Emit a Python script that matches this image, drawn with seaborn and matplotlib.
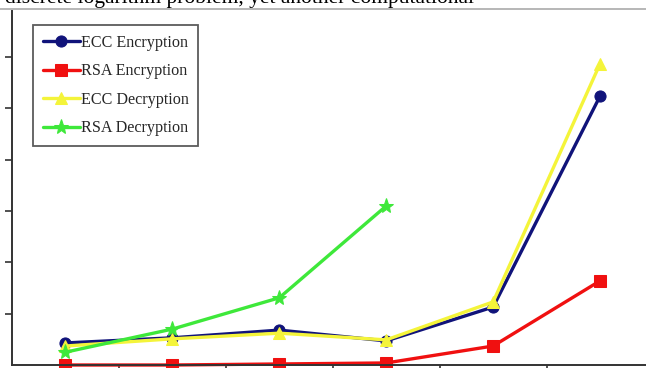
import matplotlib
matplotlib.use("Agg")
import matplotlib.pyplot as plt
from matplotlib.lines import Line2D
import seaborn as sns
import pandas as pd

key_steps = [1, 2, 3, 4, 5, 6]
ecc_enc = [0.43, 0.53, 0.68, 0.47, 1.13, 5.24]
rsa_enc = [0.00, 0.00, 0.02, 0.04, 0.37, 1.64]
ecc_dec = [0.37, 0.51, 0.62, 0.49, 1.23, 5.87]
rsa_dec = [0.25, 0.70, 1.31, 3.10]

series_names = ["ECC Encryption", "RSA Encryption", "ECC Decryption", "RSA Decryption"]
series_vals = [ecc_enc, rsa_enc, ecc_dec, rsa_dec]
colors = ["#10137a", "#f01010", "#f4f43a", "#3ee83a"]
markers = ["o", "s", "^", "*"]
msizes = [8, 8, 8, 11]

sns.set_style("white")
plt.rcParams["font.family"] = ["Liberation Serif", "DejaVu Serif"]

fig = plt.figure(figsize=(6.46, 3.68), dpi=100)
ax = fig.add_axes([12 / 646, 3 / 368, (646 - 12) / 646, (365 - 11) / 368])

for name, vals, c, m, ms in zip(series_names, series_vals, colors, markers, msizes):
    df = pd.DataFrame({"x": key_steps[:len(vals)], "y": vals})
    sns.lineplot(data=df, x="x", y="y", ax=ax, color=c, marker=m, markersize=ms,
                 markeredgecolor=c, linewidth=2.4, label=name)

ax.set_xlim(0.5, 6.43)
ax.set_ylim(0, 6.9)
ax.set_xticks([1.5, 2.5, 3.5, 4.5, 5.5])
ax.set_yticks([1, 2, 3, 4, 5, 6])
ax.set_xticklabels([])
ax.set_yticklabels([])
ax.set_xlabel("")
ax.set_ylabel("")
ax.tick_params(axis="both", direction="out", length=5, width=1.2, color="#333333",
               bottom=True, left=True)
for s in ["top", "right"]:
    ax.spines[s].set_visible(False)
for s in ["left", "bottom"]:
    ax.spines[s].set_color("#333333")
    ax.spines[s].set_linewidth(1.4)
for line in ax.lines:
    line.set_clip_on(False)

leg = ax.legend(loc="upper left", bbox_to_anchor=(21 / 634, 1 - 14 / 354),
                frameon=True, fancybox=False, fontsize=11.6, labelspacing=0.78,
                handlelength=2.3, handletextpad=0.05, borderpad=0.6, borderaxespad=0)
leg.get_frame().set_edgecolor("#333333")
leg.get_frame().set_linewidth(1.3)

fig.text(5 / 646, 1 - 2.5 / 368, "discrete logarithm problem, yet another computational",
         fontsize=15.5, va="baseline", ha="left", color="black")
fig.add_artist(Line2D([0, 1], [1 - 8.5 / 368, 1 - 8.5 / 368], color="#aaaaaa", linewidth=1.2))

fig.savefig("out.png", dpi=100)
